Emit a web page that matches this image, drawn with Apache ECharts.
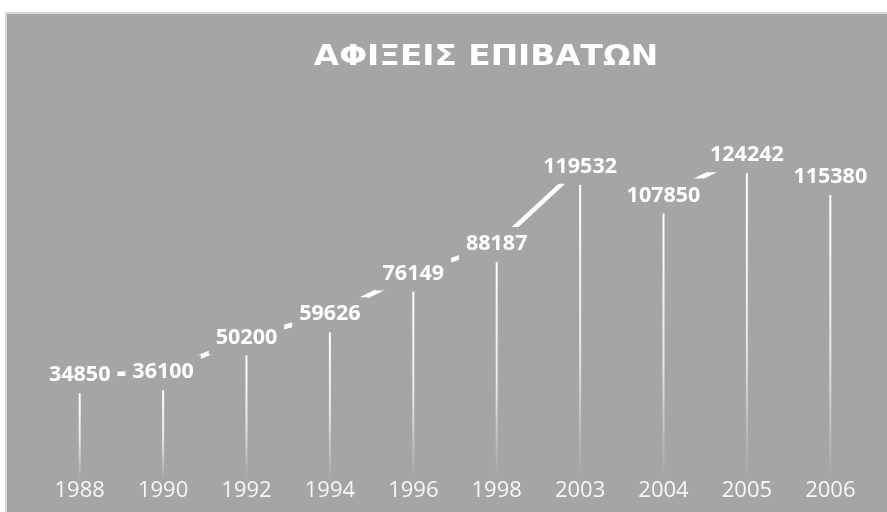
<!DOCTYPE html>
<html>
<head>
<meta charset="utf-8">
<script src="https://cdn.jsdelivr.net/npm/echarts@6/dist/echarts.min.js"></script>
<style>
  html, body { margin: 0; padding: 0; background: #ffffff; }
  #chart { width: 887px; height: 512px; }
</style>
</head>
<body>
<div id="chart"></div>
<script>
// Passenger arrivals per year
const years = ['1988', '1990', '1992', '1994', '1996', '1998', '2003', '2004', '2005', '2006'];
const arrivals = [34850, 36100, 50200, 59626, 76149, 88187, 119532, 107850, 124242, 115380];
const titleText = 'ΑΦΙΞΕΙΣ ΕΠΙΒΑΤΩΝ';

const panel = '#a5a5a5';
const chart = echarts.init(document.getElementById('chart'), null, { renderer: 'canvas' });

chart.setOption({
  animation: false,
  backgroundColor: '#ffffff',
  graphic: [{
    type: 'rect',
    z: -10,
    silent: true,
    shape: { x: 6, y: 13, width: 900, height: 520 },
    style: { fill: panel, stroke: '#d9d9d9', lineWidth: 2 }
  }, {
    // heading, stretched a little to give the wide tracked look
    type: 'text',
    silent: true,
    x: 486,
    y: 57,
    scaleX: 1.13,
    style: {
      text: titleText,
      fill: '#ffffff',
      font: 'bold 29px "DejaVu Sans"',
      align: 'center',
      verticalAlign: 'middle'
    }
  }],
  grid: [
    // line with value labels
    { left: 38, right: 15, top: 116.5, bottom: 51 },
    // drop lines, sitting just below the labels
    { left: 38, right: 15, top: 134.5, bottom: 33 }
  ],
  xAxis: [{
    type: 'category',
    gridIndex: 0,
    data: years,
    boundaryGap: true,
    axisLine: { show: false },
    axisTick: { show: false },
    axisLabel: {
      margin: 19,
      color: '#f7f7f7',
      fontFamily: 'Open Sans',
      fontSize: 22
    }
  }, {
    type: 'category',
    gridIndex: 1,
    data: years,
    boundaryGap: true,
    show: false
  }],
  yAxis: [{
    type: 'value', gridIndex: 0, min: 0, max: 140000, show: false
  }, {
    type: 'value', gridIndex: 1, min: 0, max: 140000, show: false
  }],
  series: [{
    type: 'bar',
    xAxisIndex: 1,
    yAxisIndex: 1,
    data: arrivals,
    barWidth: 2,
    itemStyle: {
      color: new echarts.graphic.LinearGradient(0, 0, 0, 1, [
        { offset: 0, color: 'rgba(255,255,255,1)' },
        { offset: 0.55, color: 'rgba(255,255,255,0.75)' },
        { offset: 1, color: 'rgba(255,255,255,0)' }
      ])
    }
  }, {
    type: 'line',
    xAxisIndex: 0,
    yAxisIndex: 0,
    data: arrivals,
    symbol: 'circle',
    symbolSize: 1,
    showSymbol: true,
    lineStyle: { color: '#ffffff', width: 4.5 },
    itemStyle: { color: '#ffffff' },
    label: {
      show: true,
      position: 'inside',
      color: '#ffffff',
      fontFamily: 'Open Sans',
      fontWeight: 'bold',
      fontSize: 21.5,
      backgroundColor: panel,
      padding: [6, 7]
    }
  }]
});
</script>
</body>
</html>
